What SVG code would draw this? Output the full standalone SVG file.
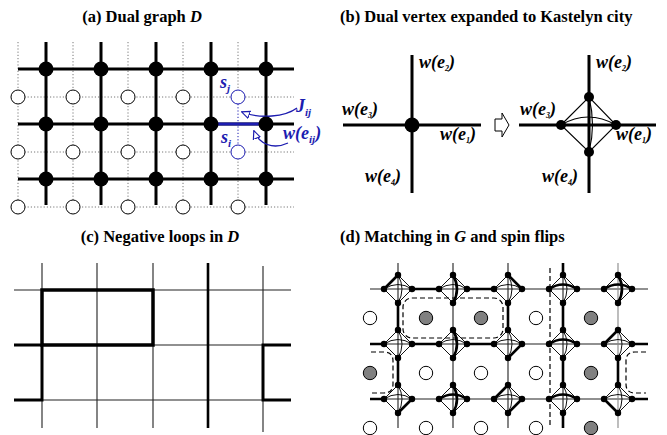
<svg xmlns="http://www.w3.org/2000/svg" width="667" height="435" viewBox="0 0 667 435">
<style>
text{font-family:'Liberation Serif','DejaVu Serif','Times New Roman',serif}
.title{font-weight:bold;font-size:16.5px;fill:#000}
.it{font-style:italic}
.lbl{font-weight:bold;font-style:italic;font-size:18px;fill:#000}
.blue{fill:#1c1cb0}
.thk{stroke:#000;stroke-width:3;fill:none}
.dotg{stroke:#777;stroke-width:1;stroke-dasharray:1.2 2;fill:none}
.dotb{stroke:#1c1cb0;stroke-width:1;stroke-dasharray:1.2 2;fill:none}
.dual{fill:#fff;stroke:#000;stroke-width:1}
.flip{fill:#808080;stroke:#000;stroke-width:1}
.thin{stroke:#111;stroke-width:1;fill:none}
.grid{stroke:#222;stroke-width:1.1;fill:none}
.gridg{stroke:#888;stroke-width:1.1;fill:none}
.mt{stroke:#000;stroke-width:2.6;fill:none}
.dash{stroke:#000;stroke-width:1.2;stroke-dasharray:5 3;fill:none}
.barrow{stroke:#1c1cb0;stroke-width:1.3;fill:none}
</style>
<defs>
<marker id="harrow" viewBox="0 0 10 10" refX="9" refY="5" markerWidth="9" markerHeight="9" orient="auto" markerUnits="userSpaceOnUse">
<path d="M0.5,1 L9.5,5 L0.5,9 Z" fill="#fff" stroke="#1c1cb0" stroke-width="1.3"/>
</marker>
<g id="kl" class="thin">
<path d="M-14,0 L0,-14 L14,0 L0,14 Z M-14,0 Q0,-9 14,0 M0,-14 Q8,0 0,14"/>
</g>
<g id="kn">
<circle cx="-14" cy="0" r="3.2"/><circle cx="14" cy="0" r="3.2"/><circle cx="0" cy="-14" r="3.2"/><circle cx="0" cy="14" r="3.2"/>
</g>
<path id="sLT" d="M-14,0 L0,-14"/>
<path id="sTR" d="M0,-14 L14,0"/>
<path id="sRB" d="M14,0 L0,14"/>
<path id="sLB" d="M-14,0 L0,14"/>
<path id="aLR" d="M-14,0 Q0,-9 14,0"/>
<path id="aTB" d="M0,-14 Q8,0 0,14"/>
</defs>

<!-- Titles -->
<text class="title" font-family="Liberation Serif, serif" x="142" y="22" text-anchor="middle">(a) Dual graph <tspan class="it">D</tspan></text>
<text class="title" font-family="Liberation Serif, serif" x="340" y="22">(b) Dual vertex expanded to Kastelyn city</text>
<text class="title" font-family="Liberation Serif, serif" x="160" y="242" text-anchor="middle">(c) Negative loops in <tspan class="it">D</tspan></text>
<text class="title" font-family="Liberation Serif, serif" x="340" y="242">(d) Matching in <tspan class="it">G</tspan> and spin flips</text>

<!-- ================= Panel (a) ================= -->
<g id="a-connectors">
<path class="dotg" d="M18,97H294M18,152H294M18,207H294M18,42V207M73,42V207M128,42V207M183,42V207M238,42V97M238,152V207"/>
<path class="dotb" d="M238,104V145"/>
<path class="thk" d="M18,69H294M18,124H294M18,179H294M46,42V205M101,42V205M156,42V205M211,42V205M266,42V205"/>
<path d="M211,124H266" stroke="#1c1cb0" stroke-width="3.2"/>
<path class="barrow" d="M297,108 C285,117 260,119 242,112" marker-end="url(#harrow)"/>
<path class="barrow" d="M288,143 C273,150 259,144 254,131" marker-end="url(#harrow)"/>
</g>
<g id="a-primal-nodes">
<circle cx="46" cy="69" r="7.5"/><circle cx="101" cy="69" r="7.5"/><circle cx="156" cy="69" r="7.5"/><circle cx="211" cy="69" r="7.5"/><circle cx="266" cy="69" r="7.5"/>
<circle cx="46" cy="124" r="7.5"/><circle cx="101" cy="124" r="7.5"/><circle cx="156" cy="124" r="7.5"/><circle cx="211" cy="124" r="7.5"/><circle cx="266" cy="124" r="7.5"/>
<circle cx="46" cy="179" r="7.5"/><circle cx="101" cy="179" r="7.5"/><circle cx="156" cy="179" r="7.5"/><circle cx="211" cy="179" r="7.5"/><circle cx="266" cy="179" r="7.5"/>
</g>
<g id="a-dual-nodes">
<circle class="dual" cx="18" cy="97" r="7"/><circle class="dual" cx="73" cy="97" r="7"/><circle class="dual" cx="128" cy="97" r="7"/><circle class="dual" cx="183" cy="97" r="7"/>
<circle class="dual" cx="18" cy="152" r="7"/><circle class="dual" cx="73" cy="152" r="7"/><circle class="dual" cx="128" cy="152" r="7"/><circle class="dual" cx="183" cy="152" r="7"/>
<circle class="dual" cx="18" cy="207" r="7"/><circle class="dual" cx="73" cy="207" r="7"/><circle class="dual" cx="128" cy="207" r="7"/><circle class="dual" cx="183" cy="207" r="7"/><circle class="dual" cx="238" cy="207" r="7"/>
</g>
<g id="a-sj">
<circle cx="238" cy="97" r="7" fill="#fff" stroke="#1c1cb0" stroke-width="1"/>
<text class="lbl blue" font-family="Liberation Serif, serif" x="220" y="88">s<tspan font-size="11" dy="4">j</tspan></text>
</g>
<g id="a-si">
<circle cx="238" cy="152" r="7" fill="#fff" stroke="#1c1cb0" stroke-width="1"/>
<text class="lbl blue" font-family="Liberation Serif, serif" x="221" y="143">s<tspan font-size="11" dy="4">i</tspan></text>
</g>
<text class="lbl blue" font-family="Liberation Serif, serif" x="296" y="112">J<tspan font-size="11" dy="4">ij</tspan></text>
<text class="lbl blue" font-family="Liberation Serif, serif" x="283" y="139">w(e<tspan font-size="11" dy="4">ij</tspan><tspan dy="-4">)</tspan></text>

<!-- ================= Panel (b) ================= -->
<g id="b-vertex">
<path class="thk" d="M412,55V193M343,125H481"/>
<circle cx="412" cy="125" r="7.5"/>
<text class="lbl" font-family="Liberation Serif, serif" x="419" y="68">w(e<tspan font-size="8" dy="3">2</tspan><tspan dy="-3">)</tspan></text>
<text class="lbl" font-family="Liberation Serif, serif" x="342" y="115">w(e<tspan font-size="8" dy="3">3</tspan><tspan dy="-3">)</tspan></text>
<text class="lbl" font-family="Liberation Serif, serif" x="440" y="140">w(e<tspan font-size="8" dy="3">1</tspan><tspan dy="-3">)</tspan></text>
<text class="lbl" font-family="Liberation Serif, serif" x="365" y="182">w(e<tspan font-size="8" dy="3">4</tspan><tspan dy="-3">)</tspan></text>
</g>
<g id="b-arrow">
<path d="M495,119H502V113L509,125L502,137V131H495Z" fill="#fff" stroke="#000" stroke-width="1"/>
</g>
<g id="b-city">
<path class="thk" d="M589,55V193M519,125H656"/>
<path stroke="#000" stroke-width="1.1" fill="none" d="M561,125L589,97L616,125L589,152Z M561,125 Q588,109 616,125 M589,97 Q596,125 589,152"/>
<circle cx="589" cy="97" r="5"/><circle cx="561" cy="125" r="5"/><circle cx="616" cy="125" r="5"/><circle cx="589" cy="152" r="5"/>
<text class="lbl" font-family="Liberation Serif, serif" x="596" y="68">w(e<tspan font-size="8" dy="3">2</tspan><tspan dy="-3">)</tspan></text>
<text class="lbl" font-family="Liberation Serif, serif" x="520" y="115">w(e<tspan font-size="8" dy="3">3</tspan><tspan dy="-3">)</tspan></text>
<text class="lbl" font-family="Liberation Serif, serif" x="616" y="140">w(e<tspan font-size="8" dy="3">1</tspan><tspan dy="-3">)</tspan></text>
<text class="lbl" font-family="Liberation Serif, serif" x="542" y="182">w(e<tspan font-size="8" dy="3">4</tspan><tspan dy="-3">)</tspan></text>
</g>

<!-- ================= Panel (c) ================= -->
<g id="c-grid">
<path class="grid" d="M14,290H291M14,345H291M14,400H291M42,263V428M97,263V428M153,263V428M263,266V432"/>
<path stroke="#000" stroke-width="2.6" d="M208,263V428"/>
</g>
<g id="c-loops">
<path stroke="#000" stroke-width="3.5" fill="none" d="M42,290H153V345H42Z"/>
<path stroke="#000" stroke-width="3" fill="none" d="M14,345H42V400H14"/>
<path stroke="#000" stroke-width="3" fill="none" d="M291,345H263V400H291"/>
</g>

<!-- ================= Panel (d) ================= -->
<g id="d-connectors">
<path class="grid" d="M370,289H648M370,344H648M370,399H648M398,263V428M453,263V428M508,263V428M563,263V428"/>
<path class="gridg" d="M618,263V428"/>
<path class="mt" d="M412,289H439M467,289H494M398,303V330M508,303V330M563,303V330M563,263V275
M370,344H384M412,344H439M467,344H494M632,344H648M398,358V385M563,358V385M618,358V385
M370,399H384M632,399H648M563,413V428"/>
<path class="dash" d="M550,268V428"/>
<rect class="dash" x="403" y="298" width="100" height="40" rx="9"/>
<path class="dash" d="M371,352H384Q393,352 393,361V384Q393,393 384,393H371"/>
<path class="dash" d="M646,352H635Q626,352 626,361V384Q626,393 635,393H646"/>
</g>
<g id="d-faces">
<circle class="dual" cx="370" cy="318" r="6.7"/><circle class="flip" cx="426" cy="318" r="6.7"/><circle class="flip" cx="481" cy="318" r="6.7"/><circle class="dual" cx="536" cy="318" r="6.7"/><circle class="flip" cx="591" cy="318" r="6.7"/>
<circle class="flip" cx="370" cy="373" r="6.7"/><circle class="dual" cx="426" cy="373" r="6.7"/><circle class="dual" cx="481" cy="373" r="6.7"/><circle class="dual" cx="536" cy="373" r="6.7"/><circle class="flip" cx="591" cy="373" r="6.7"/>
<circle class="dual" cx="370" cy="428" r="6.7"/><circle class="dual" cx="426" cy="428" r="6.7"/><circle class="dual" cx="481" cy="428" r="6.7"/><circle class="dual" cx="536" cy="428" r="6.7"/><circle class="flip" cx="591" cy="428" r="6.7"/>
</g>
<g id="d-city-1-1" transform="translate(398,289)"><use href="#kl"/><use href="#sLT" class="mt"/><use href="#kn"/></g>
<g id="d-city-1-2" transform="translate(453,289)"><use href="#kl"/><use href="#aTB" class="mt"/><use href="#kn"/></g>
<g id="d-city-1-3" transform="translate(508,289)"><use href="#kl"/><use href="#sTR" class="mt"/><use href="#kn"/></g>
<g id="d-city-1-4" transform="translate(563,289)"><use href="#kl"/><use href="#aLR" class="mt"/><use href="#kn"/></g>
<g id="d-city-1-5" transform="translate(618,289)"><use href="#kl"/><use href="#aLR" class="mt"/><use href="#aTB" class="mt"/><use href="#kn"/></g>
<g id="d-city-2-1" transform="translate(398,344)"><use href="#kl"/><use href="#kn"/></g>
<g id="d-city-2-2" transform="translate(453,344)"><use href="#kl"/><use href="#aTB" class="mt"/><use href="#kn"/></g>
<g id="d-city-2-3" transform="translate(508,344)"><use href="#kl"/><use href="#sRB" class="mt"/><use href="#kn"/></g>
<g id="d-city-2-4" transform="translate(563,344)"><use href="#kl"/><use href="#aLR" class="mt"/><use href="#kn"/></g>
<g id="d-city-2-5" transform="translate(618,344)"><use href="#kl"/><use href="#sLT" class="mt"/><use href="#kn"/></g>
<g id="d-city-3-1" transform="translate(398,399)"><use href="#kl"/><use href="#sRB" class="mt"/><use href="#kn"/></g>
<g id="d-city-3-2" transform="translate(453,399)"><use href="#kl"/><use href="#aLR" class="mt"/><use href="#aTB" class="mt"/><use href="#kn"/></g>
<g id="d-city-3-3" transform="translate(508,399)"><use href="#kl"/><use href="#sLT" class="mt"/><use href="#sRB" class="mt"/><use href="#kn"/></g>
<g id="d-city-3-4" transform="translate(563,399)"><use href="#kl"/><use href="#aLR" class="mt"/><use href="#kn"/></g>
<g id="d-city-3-5" transform="translate(618,399)"><use href="#kl"/><use href="#sLB" class="mt"/><use href="#kn"/></g>
</svg>
